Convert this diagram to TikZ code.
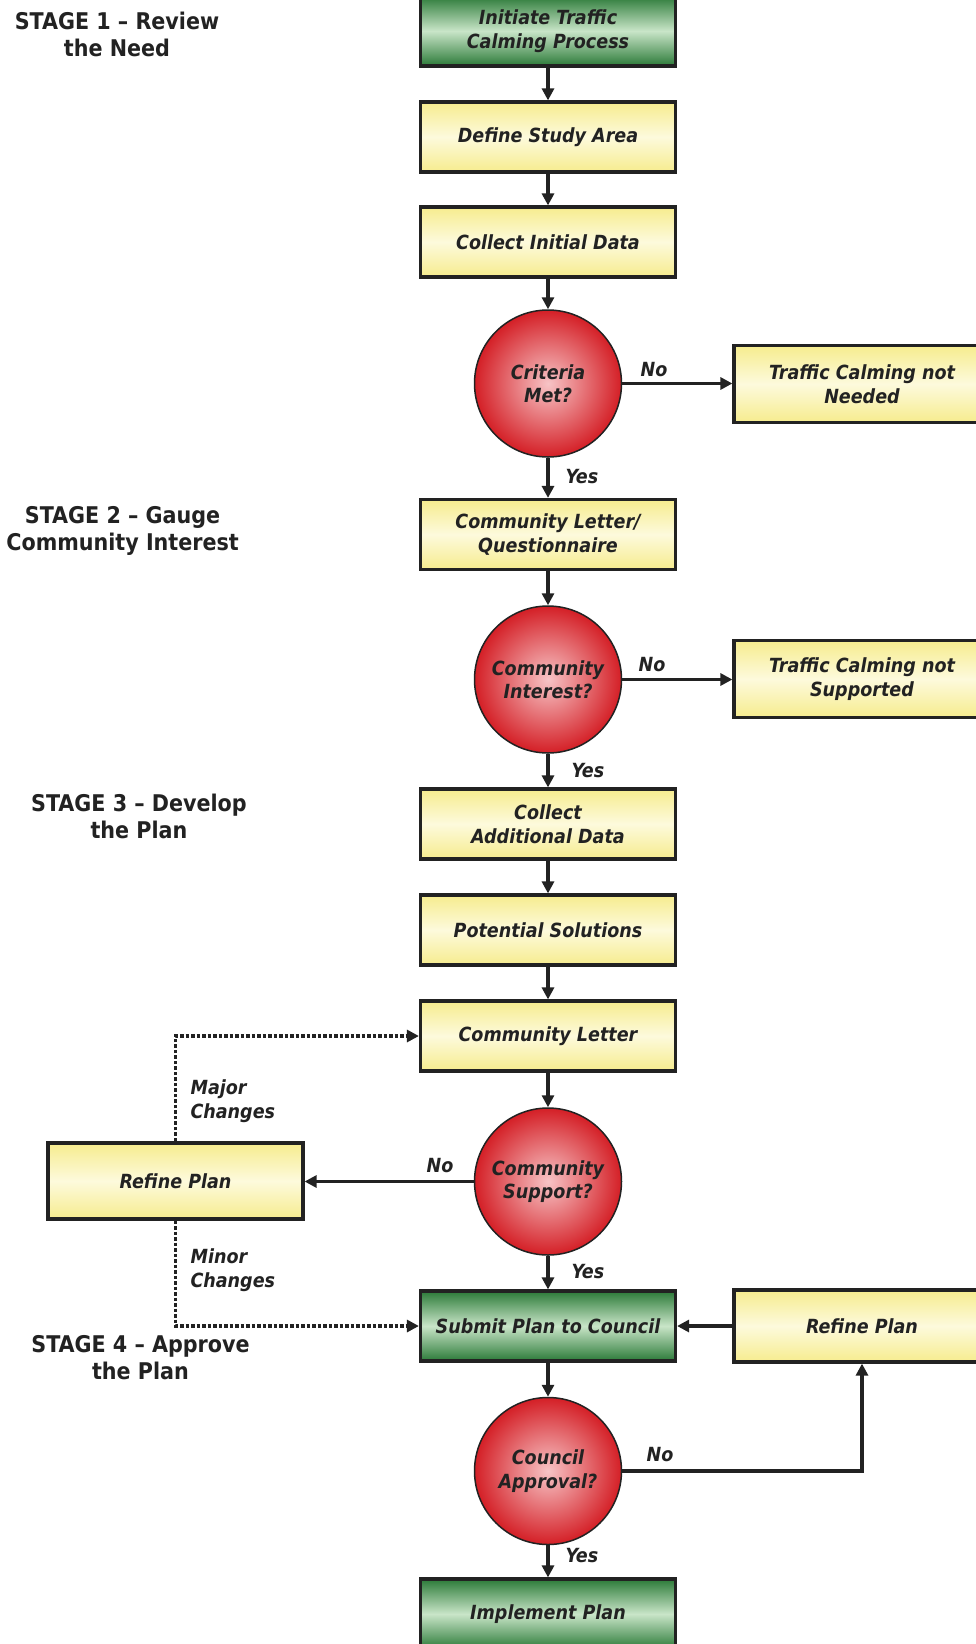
\documentclass[tikz,border=0pt]{standalone}
\usepackage{fontspec}
\usetikzlibrary{arrows.meta}

\newfontfamily\flowfont{DejaVu Sans Condensed}
\newcommand\boxtext{\flowfont\bfseries\itshape\fontsize{19.5}{23.5}\selectfont}
\newcommand\stagetext{\flowfont\bfseries\fontsize{23}{27}\selectfont}

\definecolor{yelA}{HTML}{F6EC8E}
\definecolor{yelB}{HTML}{FDFADC}
\definecolor{grnA}{HTML}{2B7A38}
\definecolor{grnB}{HTML}{C9E5C8}
\definecolor{redA}{HTML}{D41F26}
\definecolor{redB}{HTML}{F7C4C6}
\definecolor{inkc}{HTML}{222222}

\tikzset{
  stepbox/.style={draw=inkc, line width=3.2pt, minimum width=255pt, minimum height=70pt,
    align=center, font=\boxtext, text=inkc,
    top color=yelA, bottom color=yelA, middle color=yelB},
  greenbox/.style={stepbox, top color=grnA, bottom color=grnA, middle color=grnB},
  decision/.style={circle, draw=inkc, line width=1.5pt, minimum size=147pt, inner sep=0pt,
    align=center, font=\boxtext, text=inkc, inner color=redB, outer color=redA},
  flow/.style={draw=inkc, line width=3.6pt, -{Triangle[length=12pt,width=12pt]}},
  dotflow/.style={flow, dash pattern=on 3.5pt off 2pt},
  lbl/.style={font=\boxtext, text=inkc, align=left},
  stage/.style={font=\stagetext, text=inkc, align=center}
}

\begin{document}
\begin{tikzpicture}[x=1pt,y=-1pt]

\useasboundingbox (0,0) rectangle (976,1644);

% coluna principal
\node[greenbox] (init) at (548,31) {Initiate Traffic\\Calming Process};
\node[stepbox] (area) at (548,137) {Define Study Area};
\node[stepbox] (data) at (548,242) {Collect Initial Data};
\node[decision] (crit) at (548,383.5) {Criteria\\Met?};
\node[stepbox] (quest) at (548,534.5) {Community Letter/\\Questionnaire};
\node[decision] (intr) at (548,679.5) {Community\\Interest?};
\node[stepbox] (addl) at (548,824) {Collect\\Additional Data};
\node[stepbox] (sol) at (548,930) {Potential Solutions};
\node[stepbox] (letter) at (548,1036) {Community Letter};
\node[decision] (supp) at (548,1181.5) {Community\\Support?};
\node[greenbox] (submit) at (548,1326) {Submit Plan to Council};
\node[decision] (appr) at (548,1471) {Council\\Approval?};
\node[greenbox] (impl) at (548,1614) {Implement Plan};

% caixas laterais
\node[stepbox, minimum width=256pt, minimum height=77pt] (noneed) at (862,384) {Traffic Calming not\\Needed};
\node[stepbox, minimum width=256pt, minimum height=77pt] (nosupp) at (862,679) {Traffic Calming not\\Supported};
\node[stepbox, minimum height=76pt] (refl) at (175.5,1181) {Refine Plan};
\node[stepbox, minimum width=256pt, minimum height=72pt] (refr) at (862,1326) {Refine Plan};

% etapas
\node[stage] (st1) at (117,34.5) {STAGE 1 – Review\\the Need};
\node[stage] (st2) at (122.6,530.5) {STAGE 2 – Gauge\\Community Interest};
\node[stage] (st3) at (139,816.5) {STAGE 3 – Develop\\the Plan};
\node[stage] (st4) at (140.5,1357.5) {STAGE 4 – Approve\\the Plan};

% setas verticais
\foreach \a/\b in {init/area,area/data,data/crit,crit/quest,quest/intr,intr/addl,
                   addl/sol,sol/letter,letter/supp,supp/submit,submit/appr,appr/impl}
{
    \draw[flow] (\a) -- (\b);
}

% ramos "No"
\draw[flow] (crit.east) -- (crit.east -| noneed.west);
\draw[flow] (intr.east) -- (intr.east -| nosupp.west);
\draw[flow] (supp.west) -- (supp.west -| refl.east);
\draw[flow] (appr.east) -| (refr.south);
\draw[flow] (refr.west) -- (submit.east);

% alterações
\draw[dotflow] (refl.north) |- (letter.west);
\draw[dotflow] (refl.south) |- (submit.west);

% rótulos
\node[lbl] (no1) at (654,370) {No};
\node[lbl] (yes1) at (582,477) {Yes};
\node[lbl] (no2) at (652,665) {No};
\node[lbl] (yes2) at (588,770.5) {Yes};
\node[lbl] (no3) at (440,1166) {No};
\node[lbl] (yes3) at (588,1272) {Yes};
\node[lbl] (no4) at (660,1455) {No};
\node[lbl] (yes4) at (582,1556) {Yes};
\node[lbl, anchor=west] (major) at (187,1101) {Major\\Changes};
\node[lbl, anchor=west] (minor) at (187,1270) {Minor\\Changes};

\end{tikzpicture}
\end{document}
